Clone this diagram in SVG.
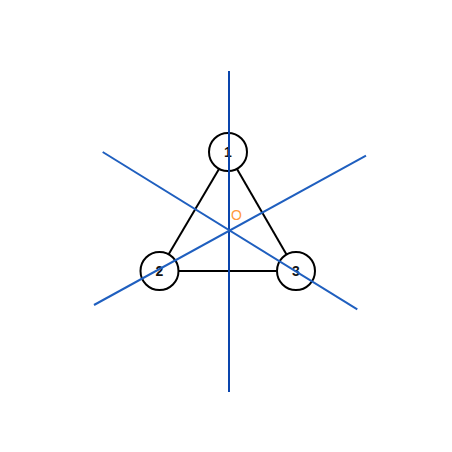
<svg xmlns="http://www.w3.org/2000/svg" width="452" height="452" viewBox="0 0 452 452">
<style>
.edge{stroke:#000;stroke-width:2;fill:none}
.node circle{fill:#fff;stroke:#000;stroke-width:2}
.node text{font-family:"Liberation Sans",Arial,sans-serif;font-size:14px;font-weight:bold;fill:#111;text-anchor:middle;dominant-baseline:central}
.axis{stroke:#1f5fbf;stroke-width:2;fill:none}
.axisv{stroke:#0a45ad;stroke-width:2;fill:none}
.lbl{font-family:"Liberation Sans",Arial,sans-serif;font-size:14px;fill:#ff9a3c;text-anchor:middle;dominant-baseline:central}
</style>
<rect width="452" height="452" fill="#fff"/>
<g id="connectors">
<line class="edge" x1="219" y1="169" x2="168.5" y2="254.5"/>
<line class="edge" x1="237" y1="169" x2="286.5" y2="254.5"/>
<line class="edge" x1="178.5" y1="271" x2="276.5" y2="271"/>
</g>
<g id="node1" class="node"><circle cx="228" cy="152" r="19"/><text x="228" y="152">1</text></g>
<g id="node2" class="node"><circle cx="159.5" cy="271" r="19"/><text x="159.5" y="271">2</text></g>
<g id="node3" class="node"><circle cx="296" cy="271" r="19"/><text x="296" y="271">3</text></g>
<g id="axes">
<line class="axisv" x1="229" y1="71" x2="229" y2="392"/>
<line class="axis" x1="102.7" y1="152" x2="357.3" y2="309.3"/>
<line class="axis" x1="94" y1="305" x2="366" y2="155.7"/>
</g>
<text class="lbl" x="236.5" y="215">O</text>
</svg>
